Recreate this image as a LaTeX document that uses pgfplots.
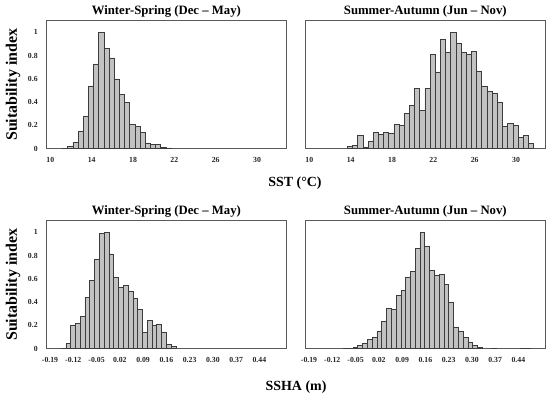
\documentclass[border=0pt]{standalone}
\usepackage{fontspec}
\setmainfont{Liberation Serif}
\usepackage{pgfplots}
\pgfplotsset{compat=1.18}
\definecolor{barfill}{RGB}{194,194,194}
\definecolor{baredge}{RGB}{60,60,60}
\definecolor{frame}{RGB}{90,90,90}
\pgfplotsset{
  panel/.style={
    scale only axis, width=239.3bp, height=128bp,
    anchor=north west,
    ymin=0, ymax=1.1,
    axis line style={draw=frame, line width=0.7bp},
    major tick length=0pt,
    tick label style={font=\fontsize{7.8}{9}\selectfont\bfseries, text=black!85},
    xticklabel style={anchor=base, yshift=-14.2bp},
    yticklabel style={anchor=east, xshift=-5.5bp},
    title style={font=\fontsize{12.8}{14}\selectfont\bfseries, at={(axis description cs:0.5,1)}, anchor=base, yshift=0bp},
    ylabel style={font=\fontsize{16}{18}\selectfont\bfseries, at={(axis description cs:-0.141,0.5)}, anchor=center},
    xlabel style={font=\fontsize{14}{16}\selectfont\bfseries},
  },
  sstpanel/.style={panel, xmin=9.65, xmax=32.8, xtick={10,14,18,22,26,30}, xticklabels={10,14,18,22,26,30}},
  sshapanel/.style={panel, xmin=-0.2, xmax=0.52,
    xtick={-0.19,-0.12,-0.05,0.02,0.09,0.16,0.23,0.30,0.37,0.44},
    xticklabels={-0.19,-0.12,-0.05,0.02,0.09,0.16,0.23,0.30,0.37,0.44}},
  leftpanel/.style={ytick={0,0.2,0.4,0.6,0.8,1}, yticklabels={0,0.2,0.4,0.6,0.8,1}, ylabel={Suitability index}},
  rightpanel/.style={ytick=\empty},
  histbar/.style={ybar, fill=barfill, draw=baredge, line width=0.5bp},
}
\begin{document}
\begin{tikzpicture}
\path[use as bounding box] (0,0) rectangle (550bp,-398bp);

% Top-left: SST winter-spring
\begin{axis}[sstpanel, leftpanel, at={(46.7bp,-20.7bp)},
  title={Winter-Spring (Dec – May)},
  xlabel={SST (°C)},
  xlabel style={at={(axis description cs:1.0376,-0.295)}, anchor=base}]
\addplot[histbar, bar width=0.5] coordinates {
(11.43,0.005) (11.93,0.02) (12.43,0.057) (12.93,0.146) (13.43,0.275)
(13.93,0.54) (14.43,0.73) (14.93,1.0) (15.43,0.86) (15.93,0.78)
(16.43,0.60) (16.93,0.47) (17.43,0.40) (17.93,0.206) (18.43,0.195)
(18.93,0.14) (19.43,0.05) (19.93,0.04) (20.43,0.04) (20.93,0.014)
(21.43,0.008)};
\end{axis}

% Top-right: SST summer-autumn
\begin{axis}[sstpanel, rightpanel, at={(305.7bp,-20.7bp)},
  title={Summer-Autumn (Jun – Nov)}]
\addplot[histbar, bar width=0.5] coordinates {
(13.93,0.017) (14.43,0.026) (14.93,0.117) (15.43,0.011) (15.93,0.063)
(16.43,0.143) (16.93,0.126) (17.43,0.143) (17.93,0.132) (18.43,0.206)
(18.93,0.203) (19.43,0.304) (19.93,0.372) (20.43,0.519) (20.93,0.33)
(21.43,0.52) (21.93,0.81) (22.43,0.66) (22.93,0.94) (23.43,0.825)
(23.93,1.0) (24.43,0.91) (24.93,0.825) (25.43,0.81) (25.93,0.837)
(26.43,0.668) (26.93,0.539) (27.43,0.49) (27.93,0.476) (28.43,0.395)
(28.93,0.195) (29.43,0.218) (29.93,0.203) (30.43,0.10) (30.93,0.112)
(31.43,0.043)};
\end{axis}

% Bottom-left: SSHA winter-spring
\begin{axis}[sshapanel, leftpanel, at={(46.7bp,-220.7bp)},
  title={Winter-Spring (Dec – May)},
  xlabel={SSHA (m)},
  xlabel style={at={(axis description cs:1.0418,-0.330)}, anchor=base}]
\addplot[histbar, bar width=0.0144] coordinates {
(-0.1498,0.003) (-0.1354,0.043) (-0.1210,0.203) (-0.1066,0.218) (-0.0922,0.278)
(-0.0778,0.444) (-0.0634,0.587) (-0.0490,0.765) (-0.0346,0.991) (-0.0202,1.0)
(-0.0058,0.814) (0.0086,0.613) (0.0230,0.527) (0.0374,0.542) (0.0518,0.496)
(0.0662,0.433) (0.0806,0.338) (0.0950,0.143) (0.1094,0.246) (0.1238,0.200)
(0.1382,0.209) (0.1526,0.143) (0.1670,0.040) (0.1814,0.023)};
\end{axis}

% Bottom-right: SSHA summer-autumn
\begin{axis}[sshapanel, rightpanel, at={(305.7bp,-220.7bp)},
  title={Summer-Autumn (Jun – Nov)}]
\addplot[histbar, bar width=0.0144] coordinates {
(-0.0795,0.003) (-0.0651,0.003) (-0.0507,0.009) (-0.0363,0.026) (-0.0219,0.050)
(-0.0075,0.080) (0.0069,0.100) (0.0213,0.150) (0.0357,0.234) (0.0501,0.345)
(0.0645,0.336) (0.0789,0.456) (0.0933,0.504) (0.1077,0.618) (0.1221,0.664)
(0.1365,0.863) (0.1509,1.0) (0.1653,0.877) (0.1797,0.670) (0.1941,0.632)
(0.2085,0.638) (0.2229,0.556) (0.2373,0.399) (0.2517,0.185) (0.2661,0.148)
(0.2805,0.097) (0.2949,0.054) (0.3093,0.031) (0.3237,0.014)
(0.3669,0.004) (0.4533,0.003) (0.4677,0.003)};
\end{axis}
\end{tikzpicture}
\end{document}
